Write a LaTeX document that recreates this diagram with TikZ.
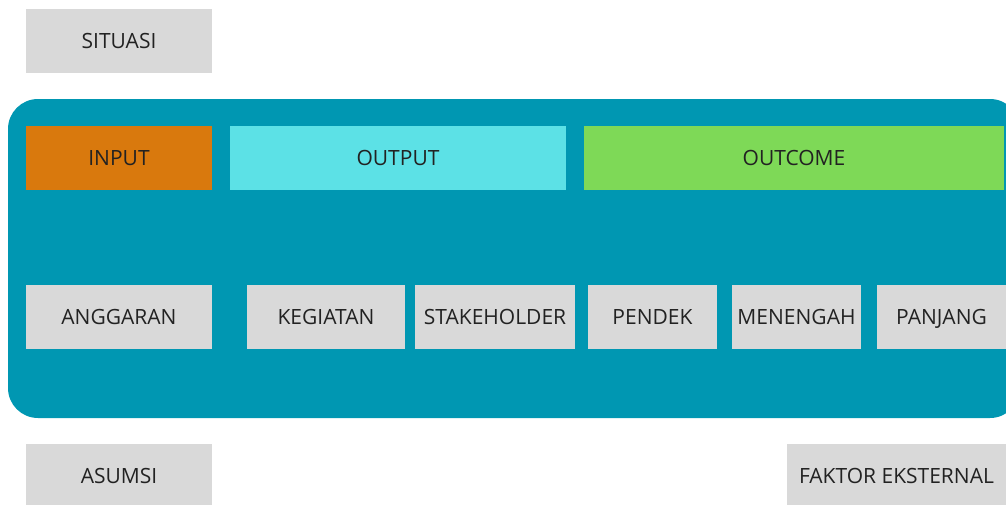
\documentclass[tikz,border=0pt]{standalone}
\usepackage{fontspec}
\setmainfont{Open Sans}
\usepackage{xcolor}
\usetikzlibrary{positioning}
\definecolor{panelteal}{HTML}{0097B2}
\definecolor{boxgray}{HTML}{D9D9D9}
\definecolor{inputorange}{HTML}{D9790D}
\definecolor{outputcyan}{HTML}{5CE1E6}
\definecolor{outcomegreen}{HTML}{7ED957}
\definecolor{textdark}{HTML}{222222}
\tikzset{
  box/.style={fill=boxgray, text=textdark, inner sep=0pt, minimum height=32pt,
    text height=7.6pt, text depth=0pt, font=\fontsize{10.5}{12}\selectfont},
  head/.style={box, text=textdark}
}

\begin{document}
\begin{tikzpicture}[x=0.5pt,y=-0.5pt]
        \useasboundingbox (0,0) rectangle (1006,504);
        % top and bottom notes
        \node[box, minimum width=93pt] (situasi) at (119,41) {SITUASI};
        \node[box, minimum width=93pt] (asumsi) at (119,476) {ASUMSI};
        \node[box, minimum width=109.5pt] (faktor) at (896.5,476) {FAKTOR EKSTERNAL};
        % the panel
        \fill[panelteal, rounded corners=15pt] (8,99) rectangle (1020,418);
        % headers
        \node[head, fill=inputorange, minimum width=93pt] (input) at (119,158) {INPUT};
        \node[head, fill=outputcyan, minimum width=168pt] (output) at (398,158) {OUTPUT};
        \node[head, fill=outcomegreen, minimum width=210pt] (outcome) at (794,158) {OUTCOME};
        % items
        \node[box, minimum width=93pt] (anggaran) at (119,317) {ANGGARAN};
        \node[box, minimum width=79pt] (kegiatan) at (326,317) {KEGIATAN};
        \node[box, minimum width=80pt] (stakeholder) at (495,317) {STAKEHOLDER};
        \node[box, minimum width=64.5pt] (pendek) at (652.5,317) {PENDEK};
        \node[box, minimum width=64.5pt] (menengah) at (796.5,317) {MENENGAH};
        \node[box, minimum width=64.5pt] (panjang) at (941.5,317) {PANJANG};
      \end{tikzpicture}
\end{document}
